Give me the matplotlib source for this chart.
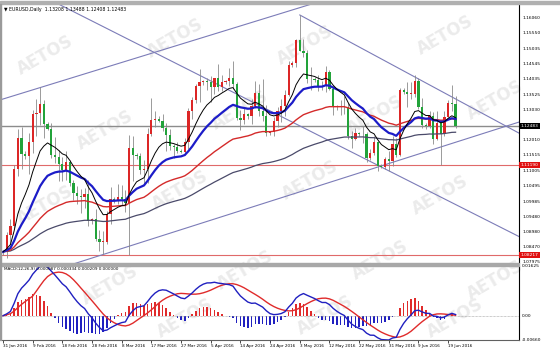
import numpy as np
import pandas as pd
import matplotlib
matplotlib.use("Agg")
import matplotlib.pyplot as plt
from matplotlib.patches import Rectangle

# EURUSD daily bars (broker with Sunday bars), 31 Jan 2016 - 21 Jun 2016
opens = [1.0830, 1.0832, 1.0888, 1.0918, 1.1105, 1.1209, 1.1157, 1.1150, 1.1196, 1.1289,
         1.1290, 1.1320, 1.1254, 1.1240, 1.1151, 1.1146, 1.1123, 1.1104, 1.1130, 1.1060,
         1.1026, 1.1018, 1.1014, 1.1024, 1.0933, 1.0940, 1.0873, 1.0865, 1.0866, 1.0958,
         1.1008, 1.1005, 1.1013, 1.1007, 1.0995, 1.1177, 1.1151, 1.1148, 1.1103, 1.1106,
         1.1222, 1.1268, 1.1272, 1.1266, 1.1242, 1.1220, 1.1183, 1.1178, 1.1166, 1.1163,
         1.1196, 1.1298, 1.1334, 1.1380, 1.1393, 1.1396, 1.1393, 1.1378, 1.1406, 1.1377,
         1.1395, 1.1398, 1.1409, 1.1387, 1.1274, 1.1268, 1.1287, 1.1280, 1.1315, 1.1357,
         1.1297, 1.1283, 1.1224, 1.1228, 1.1266, 1.1298, 1.1316, 1.1352, 1.1451, 1.1458,
         1.1532, 1.1497, 1.1490, 1.1404, 1.1404, 1.1400, 1.1380, 1.1381, 1.1428, 1.1370,
         1.1310, 1.1312, 1.1313, 1.1313, 1.1217, 1.1205, 1.1224, 1.1222, 1.1222, 1.1141,
         1.1158, 1.1196, 1.1116, 1.1114, 1.1140, 1.1132, 1.1189, 1.1153, 1.1368, 1.1360,
         1.1356, 1.1356, 1.1396, 1.1313, 1.1251, 1.1250, 1.1283, 1.1206, 1.1257, 1.1223,
         1.1278, 1.1325, 1.13208]
highs = [1.0838, 1.0897, 1.0941, 1.1118, 1.1239, 1.1245, 1.1165, 1.1225, 1.1300, 1.1337,
         1.1376, 1.1334, 1.1262, 1.1260, 1.1212, 1.1169, 1.1146, 1.1166, 1.1135, 1.1070,
         1.1049, 1.1040, 1.1043, 1.1071, 1.0945, 1.0973, 1.0905, 1.0902, 1.0968, 1.1045,
         1.1015, 1.1055, 1.1054, 1.1036, 1.1218, 1.1217, 1.1160, 1.1160, 1.1136, 1.1242,
         1.1342, 1.1298, 1.1280, 1.1289, 1.1258, 1.1238, 1.1190, 1.1195, 1.1172, 1.1209,
         1.1309, 1.1345, 1.1387, 1.1438, 1.1400, 1.1408, 1.1414, 1.1403, 1.1453, 1.1418,
         1.1402, 1.1439, 1.1464, 1.1395, 1.1301, 1.1310, 1.1292, 1.1338, 1.1399, 1.1386,
         1.1404, 1.1317, 1.1232, 1.1279, 1.1311, 1.1339, 1.1369, 1.1464, 1.1462, 1.1536,
         1.1616, 1.1535, 1.1500, 1.1445, 1.1410, 1.1418, 1.1398, 1.1446, 1.1434, 1.1384,
         1.1318, 1.1336, 1.1349, 1.1323, 1.1232, 1.1243, 1.1230, 1.1248, 1.1230, 1.1172,
         1.1216, 1.1200, 1.1122, 1.1145, 1.1167, 1.1214, 1.1210, 1.1375, 1.1375, 1.1395,
         1.1395, 1.1416, 1.1408, 1.1342, 1.1260, 1.1298, 1.1295, 1.1299, 1.1268, 1.1298,
         1.1335, 1.1384, 1.13488]
lows = [1.0822, 1.0812, 1.0860, 1.0907, 1.1083, 1.1105, 1.1140, 1.1090, 1.1160, 1.1217,
        1.1252, 1.1210, 1.1235, 1.1143, 1.1127, 1.1068, 1.1068, 1.1069, 1.1050, 1.1005,
        1.0991, 1.0959, 1.0977, 1.0916, 1.0925, 1.0869, 1.0835, 1.0825, 1.0857, 1.0925,
        1.0995, 1.0990, 1.0988, 1.0964, 1.0822, 1.1065, 1.1140, 1.1090, 1.1058, 1.1059,
        1.1216, 1.1245, 1.1262, 1.1231, 1.1166, 1.1169, 1.1144, 1.1160, 1.1158, 1.1151,
        1.1172, 1.1271, 1.1326, 1.1328, 1.1385, 1.1367, 1.1329, 1.1353, 1.1363, 1.1365,
        1.1388, 1.1381, 1.1370, 1.1267, 1.1234, 1.1256, 1.1270, 1.1255, 1.1308, 1.1283,
        1.1265, 1.1215, 1.1218, 1.1214, 1.1245, 1.1262, 1.1280, 1.1347, 1.1445, 1.1443,
        1.1496, 1.1476, 1.1391, 1.1367, 1.1395, 1.1365, 1.1366, 1.1362, 1.1368, 1.1284,
        1.1302, 1.1285, 1.1287, 1.1206, 1.1177, 1.1201, 1.1215, 1.1192, 1.1129, 1.1135,
        1.1152, 1.1101, 1.1108, 1.1106, 1.1098, 1.1117, 1.1145, 1.1148, 1.1355, 1.1312,
        1.1339, 1.1344, 1.1304, 1.1241, 1.1240, 1.1241, 1.1189, 1.1202, 1.1119, 1.1216,
        1.1278, 1.1297, 1.12408]
closes = [1.0832, 1.0888, 1.0918, 1.1105, 1.1209, 1.1157, 1.1150, 1.1196, 1.1289, 1.1290,
          1.1320, 1.1254, 1.1240, 1.1151, 1.1146, 1.1123, 1.1104, 1.1130, 1.1060, 1.1026,
          1.1018, 1.1014, 1.1024, 1.0933, 1.0940, 1.0873, 1.0865, 1.0866, 1.0958, 1.1008,
          1.1005, 1.1013, 1.1007, 1.0995, 1.1177, 1.1151, 1.1148, 1.1103, 1.1106, 1.1222,
          1.1268, 1.1272, 1.1266, 1.1242, 1.1220, 1.1183, 1.1178, 1.1166, 1.1163, 1.1196,
          1.1298, 1.1334, 1.1380, 1.1393, 1.1396, 1.1393, 1.1378, 1.1406, 1.1377, 1.1395,
          1.1398, 1.1409, 1.1387, 1.1274, 1.1268, 1.1287, 1.1280, 1.1315, 1.1357, 1.1297,
          1.1283, 1.1224, 1.1228, 1.1266, 1.1298, 1.1316, 1.1352, 1.1451, 1.1458, 1.1532,
          1.1497, 1.1490, 1.1404, 1.1404, 1.1400, 1.1380, 1.1381, 1.1428, 1.1370, 1.1310,
          1.1312, 1.1313, 1.1313, 1.1217, 1.1205, 1.1224, 1.1222, 1.1222, 1.1141, 1.1158,
          1.1196, 1.1116, 1.1114, 1.1140, 1.1132, 1.1189, 1.1153, 1.1368, 1.1360, 1.1356,
          1.1356, 1.1396, 1.1313, 1.1251, 1.1250, 1.1283, 1.1206, 1.1257, 1.1223, 1.1278,
          1.1325, 1.1321, 1.12483]

date_labels = ["31 Jan 2016", "9 Feb 2016", "18 Feb 2016", "28 Feb 2016", "8 Mar 2016",
               "17 Mar 2016", "27 Mar 2016", "5 Apr 2016", "14 Apr 2016", "24 Apr 2016",
               "3 May 2016", "12 May 2016", "22 May 2016", "31 May 2016", "9 Jun 2016",
               "19 Jun 2016"]
date_label_bars = [0, 8, 16, 24, 32, 40, 48, 56, 64, 72, 80, 88, 96, 104, 112, 120]

price_labels = [1.16060, 1.15550, 1.15035, 1.14545, 1.14035, 1.13525, 1.13030, 1.12010,
                1.11515, 1.11005, 1.10495, 1.09985, 1.09480, 1.08980, 1.08470, 1.07975]

# horizontal line objects (price, line colour, label box colour)
hlines = [(1.12483, "#8c8c8c", "black"), (1.11190, "#e06a6a", "#e01010"),
          (1.08217, "#e06a6a", "#e01010")]

# trend lines: (bar, price) -> (bar, price)
trend_lines = [((-1, 1.13340), (140, 1.18670)),
               ((18, 1.07880), (140, 1.12650)),
               ((80, 1.16160), (140, 1.12190)),
               ((14, 1.16580), (140, 1.08770))]

header = "EURUSD,Daily  1.13208 1.13488 1.12408 1.12483"
macd_header = "MACD(12,26,9) 0.000087 0.000334 0.000209 0.000000"

W, H = 560, 351
n = len(closes)
x = np.arange(n)
o = np.array(opens); h = np.array(highs); l = np.array(lows); c = np.array(closes)

s = pd.Series(c)
ma_black = s.ewm(span=10, adjust=False).mean()
ma_blue = s.ewm(span=21, adjust=False).mean()
ma_red = s.ewm(span=50, adjust=False).mean()
ma_gray = s.ewm(span=100, adjust=False).mean()

# MT4 style MACD: EMA12 - EMA26, signal is a simple average of 9
macd = s.ewm(span=12, adjust=False).mean() - s.ewm(span=26, adjust=False).mean()
signal = macd.rolling(9, min_periods=1).mean()
hist = macd - signal

fig = plt.figure(figsize=(W / 100, H / 100), dpi=100)
fig.patch.set_facecolor("white")

# watermark layer
bg = fig.add_axes([0, 0, 1, 1], zorder=-1)
bg.set_xlim(0, W); bg.set_ylim(H, 0); bg.axis("off")
marks = [(45, 55), (175, 38), (305, 45), (445, 35),
         (105, 130), (240, 110), (375, 115), (495, 100),
         (45, 205), (180, 190), (310, 180), (440, 195),
         (110, 285), (245, 270), (380, 260), (495, 280),
         (185, 318), (325, 315), (455, 318)]
for mx, my in marks:
    bg.text(mx, my, "AETOS", rotation=30, color="#ebebeb", fontsize=12,
            fontweight="bold", ha="center", va="center")

ax = fig.add_axes([2 / W, 1 - 263 / H, 517 / W, 259 / H])
ax2 = fig.add_axes([2 / W, 1 - 340 / H, 517 / W, 74 / H])
for a in (ax, ax2):
    a.set_facecolor("none")
    a.set_xlim(-0.27, 139.1)
    for sp in ("top", "left", "bottom"):
        a.spines[sp].set_visible(False)
    a.spines["right"].set_color("black")
    a.spines["right"].set_linewidth(0.8)
    a.set_yticks([])
ax.set_xticks([])
ax.set_ylim(1.07950, 1.16523)

# horizontal objects
for price, col, box in hlines:
    ax.axhline(price, color=col, lw=1.0 if box == "black" else 0.8, zorder=1)
    ax.text(1.003, price, "%.5f" % price, transform=ax.get_yaxis_transform(),
            fontsize=3.2, color="white", va="center", ha="left",
            bbox=dict(boxstyle="square,pad=0.25", fc=box, ec="none"), clip_on=False)

# trend lines
for (b0, p0), (b1, p1) in trend_lines:
    ax.plot([b0, b1], [p0, p1], color="#7c7cb8", lw=0.8, zorder=2)

# candles
up = c >= o
ax.vlines(x, l, h, color="#8a8a8a", lw=0.6, zorder=3)
body_lo = np.minimum(o, c)
body_h = np.maximum(np.abs(c - o), 0.00012)
ax.bar(x[up], body_h[up], bottom=body_lo[up], width=0.6, color="#dc2626", zorder=4)
ax.bar(x[~up], body_h[~up], bottom=body_lo[~up], width=0.6, color="#22a33a", zorder=4)

# moving averages
ax.plot(x, ma_gray, color="#4a4a6a", lw=0.9, zorder=5)
ax.plot(x, ma_red, color="#d42a2a", lw=1.0, zorder=5)
ax.plot(x, ma_blue, color="#1c1cc8", lw=1.6, zorder=5)
ax.plot(x, ma_black, color="black", lw=0.7, zorder=6)

for p in price_labels:
    ax.text(1.006, p, "%.5f" % p, transform=ax.get_yaxis_transform(), fontsize=3.2,
            va="center", ha="left", clip_on=False)

ax.text(0.004, 0.99, "\u25bc " + header, transform=ax.transAxes, fontsize=3.3,
        va="top", ha="left")

# MACD panel
lo = min(macd.min(), signal.min(), hist.min())
hi = max(macd.max(), signal.max(), hist.max())
ax2.set_ylim(lo, hi)
ax2.axhline(0, color="#9a9a9a", lw=0.5, ls=(0, (1, 1)))
hp = hist.values
ax2.bar(x[hp >= 0], hp[hp >= 0], width=0.4, color="#e02b2b")
ax2.bar(x[hp < 0], hp[hp < 0], width=0.4, color="#2020c0")
ax2.plot(x, signal, color="#e02b2b", lw=1.0)
ax2.plot(x, macd, color="#2020c0", lw=1.0)
ax2.spines["bottom"].set_visible(True)
ax2.spines["bottom"].set_color("#606060")
ax2.spines["bottom"].set_linewidth(0.8)
ax2.set_xticks(date_label_bars)
ax2.set_xticklabels(date_labels, ha="left", fontsize=3.0)
ax2.tick_params(axis="x", length=2, width=0.5, pad=1)
ax2.text(0.004, 0.98, macd_header, transform=ax2.transAxes, fontsize=3.0,
         va="top", ha="left")
ax2.text(1.006, 1.0, "0.01625", transform=ax2.transAxes, fontsize=3.2, va="center", ha="left")
ax2.text(1.006, 0.0, "0.00", transform=ax2.get_yaxis_transform(), fontsize=3.2,
         va="center", ha="left")
ax2.text(1.006, 0.0, "-0.00660", transform=ax2.transAxes, fontsize=3.2, va="center", ha="left")

# frame pieces
fig.patches.append(Rectangle((0, 1 - 266 / H), 519 / W, 3 / H, transform=fig.transFigure,
                             color="#a8a8a8"))
fig.patches.append(Rectangle((0, 1 - 4 / H), 1, 3 / H, transform=fig.transFigure,
                             color="#b0b0b0"))
fig.patches.append(Rectangle((0, 1 - 340 / H), 1 / W, 336 / H, transform=fig.transFigure,
                             color="#9a9a9a"))

fig.savefig("out.png", dpi=100)
